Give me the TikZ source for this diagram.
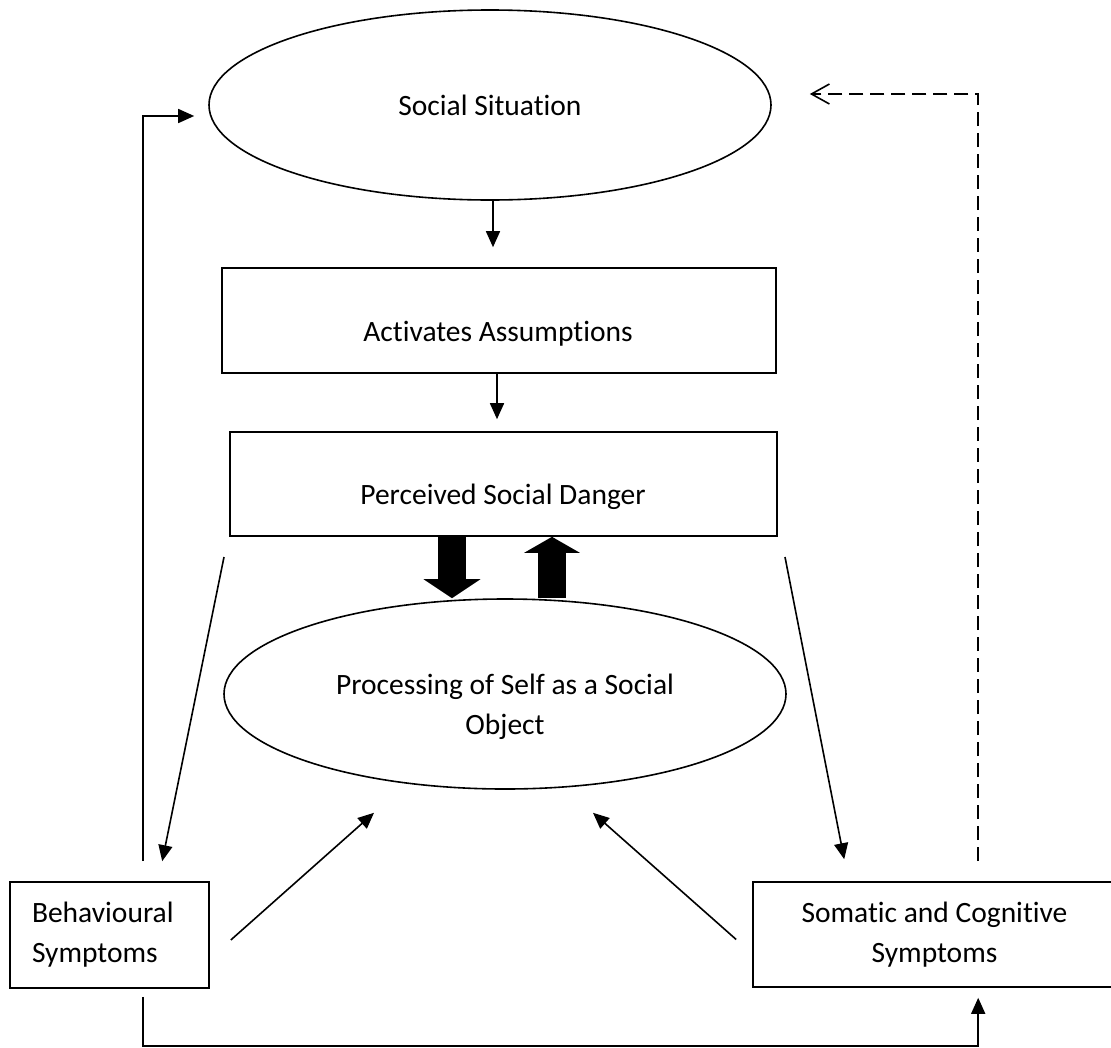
\documentclass[tikz,border=0pt]{standalone}
\usepackage{fontspec}
\setmainfont{Carlito}[Ligatures=NoCommon]
\usetikzlibrary{arrows.meta,calc,shapes.geometric}
\tikzset{
  ln/.style={line width=1.6pt},
  arr/.style={ln, -{Triangle[length=16pt,width=14pt]}},
  openarr/.style={ln, dash pattern=on 14pt off 7pt, -{Straight Barb[length=18pt,width=20pt,line width=1.6pt]}},
  boxnode/.style={draw, line width=1.6pt, rectangle, inner sep=0pt},
  ellnode/.style={draw, line width=1.6pt, ellipse, inner sep=0pt, minimum width=562pt, minimum height=190pt},
  txt/.style={font=\fontsize{29.5}{40}\selectfont, align=center, inner sep=0pt},
  fatdown/.style={line width=28pt, -{Triangle[length=19pt,width=56pt]}},
  fatup/.style={line width=28pt, -{Triangle[length=16pt,width=55pt]}},
}
\begin{document}
\begin{tikzpicture}[x=1pt,y=-1pt]
\fill[white, use as bounding box] (0,0) rectangle (1111,1047);

% nodes
\node[ellnode, txt] (soc) at (490,105) {Social Situation};
\node[boxnode, minimum width=554pt, minimum height=105pt] (act) at (499,320.5) {};
\node[txt] (acttext) at (498,334) {Activates Assumptions};
\node[boxnode, minimum width=547pt, minimum height=104pt] (perc) at (503.5,484) {};
\node[txt] (perctext) at (503,497) {Perceived Social Danger};
\node[ellnode] (proc) at (505,694) {};
\node[txt] (proctext) at (505,707) {Processing of Self as a Social\\Object};
\node[boxnode, txt, minimum width=199pt, minimum height=106pt, align=left, text width=155pt, inner xsep=22pt] (beh) at (109.5,935) {Behavioural\\Symptoms};
\node[boxnode, minimum width=380pt, minimum height=105pt] (som) at (943,934.5) {};
\node[txt] (somtext) at (934.5,934.5) {Somatic and Cognitive\\Symptoms};

% vertical thin arrows
\coordinate (a1) at (493,0);
\coordinate (a2) at (497,0);
\draw[arr] (a1 |- soc.south) -- ($(a1 |- act.north)+(0,-20)$);
\draw[arr] (a2 |- act.south) -- ($(a2 |- perc.north)+(0,-12)$);

% thick arrows
\coordinate (f1) at (452,0);
\coordinate (f2) at (552,0);
\draw[fatdown] (f1 |- perc.south) -- (f1 |- proc.north);
\draw[fatup] (f2 |- proc.north) -- (f2 |- perc.south);

% diagonal lines to symptom boxes
\coordinate (pl) at (224,557);
\coordinate (pr) at (785,557);
\draw[arr] (pl) -- ($(beh.north west)+(153,-20)$);
\draw[arr] (pr) -- ($(som.north west)+(92,-22)$);

% arrows into processing
\draw[arr] ($(beh.east)+(21,5)$) -- ($(proc.south)+(-131,23)$);
\draw[arr] ($(som.west)+(-16,5)$) -- ($(proc.south)+(88,23)$);

% left feedback elbow
\draw[arr] ($(beh.north west)+(134,-20)$) |- ($(soc.west)+(-14,11)$);

% dashed feedback
\draw[openarr] ($(som.north west)+(226,-20)$) |- ($(soc.east)+(38,-11)$);

% bottom elbow
\draw[arr] ($(beh.south west)+(134,8)$) -- ++(0,49) -| ($(som.south west)+(226,10)$);
\end{tikzpicture}
\end{document}
